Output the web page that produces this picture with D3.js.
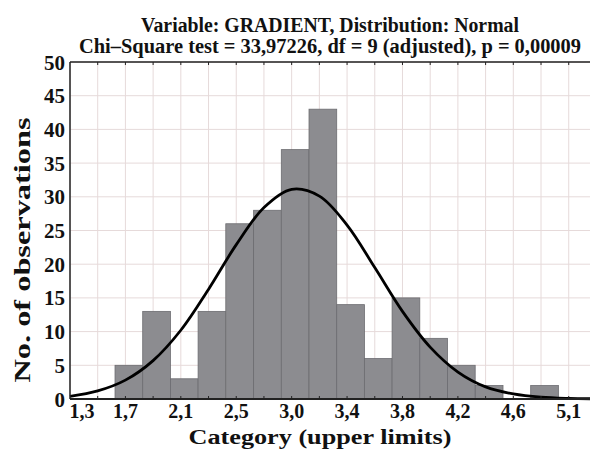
<!DOCTYPE html>
<html>
<head>
<meta charset="utf-8">
<script src="https://cdn.jsdelivr.net/npm/d3@7"></script>
<style>
  body { margin: 0; background: #fff; }
  svg text { font-family: "Liberation Serif", "DejaVu Serif", serif; font-weight: bold; fill: #111; }
</style>
</head>
<body>
<svg id="chart" width="590" height="450"></svg>
<script>
// histogram categories (lower limit of each bar) and counts
const binLower = [1.643, 1.854, 2.065, 2.276, 2.487, 2.699, 2.910, 3.121,
                  3.332, 3.543, 3.754, 3.965, 4.176, 4.388, 4.599, 4.810];
const binWidth = 0.2111;
const counts = [5, 13, 3, 13, 26, 28, 37, 43, 14, 6, 15, 9, 5, 2, 0, 2];

// fitted normal curve
const curveX = [1.300, 1.511, 1.722, 1.933, 2.144, 2.356, 2.567, 2.778, 2.989, 3.200,
                3.411, 3.622, 3.833, 4.044, 4.256, 4.467, 4.678, 4.889, 5.100, 5.311];
const curveY = [0.4, 1.2, 2.8, 5.7, 10.2, 16.3, 22.9, 28.4, 31.1, 30.1,
                25.8, 19.5, 13.0, 7.7, 4.0, 1.8, 0.75, 0.27, 0.09, 0.03];

// x axis labels
const xTickVals = [1.3, 1.722, 2.144, 2.567, 2.989, 3.411, 3.833, 4.256, 4.678, 5.1];
const xTickLabels = ["1,3", "1,7", "2,1", "2,5", "3,0", "3,4", "3,8", "4,2", "4,6", "5,1"];
const yTicks = [0, 5, 10, 15, 20, 25, 30, 35, 40, 45, 50];

const titleLines = ["Variable: GRADIENT, Distribution: Normal",
                    "Chi\u2013Square test = 33,97226, df = 9 (adjusted), p = 0,00009"];

const svg = d3.select("#chart");
const pLeft = 70, pRight = 595, pTop = 62, pBottom = 399;

const x = d3.scaleLinear().domain([1.3, 5.3]).range([pLeft, pRight]);
const y = d3.scaleLinear().domain([0, 50]).range([pBottom, pTop]);

// grid
const gridX = d3.range(0, 20).map(k => 1.3 + k * binWidth);
svg.append("g").selectAll("line").data(gridX).enter().append("line")
  .attr("x1", d => x(d)).attr("x2", d => x(d))
  .attr("y1", pTop).attr("y2", pBottom)
  .attr("stroke", "#e6dada").attr("stroke-width", 1);
svg.append("g").selectAll("line").data(yTicks).enter().append("line")
  .attr("x1", pLeft).attr("x2", 590)
  .attr("y1", d => y(d)).attr("y2", d => y(d))
  .attr("stroke", "#e6dada").attr("stroke-width", 1);

// bars
svg.append("g").selectAll("rect").data(counts).enter().append("rect")
  .attr("x", (d, i) => x(binLower[i]))
  .attr("width", (d, i) => x(binLower[i] + binWidth) - x(binLower[i]))
  .attr("y", d => y(d))
  .attr("height", d => y(0) - y(d))
  .attr("fill", "#8c8c90")
  .attr("stroke", "#6c6c70")
  .attr("stroke-width", 0.8);

// normal curve
const line = d3.line()
  .x((d, i) => x(curveX[i]))
  .y(d => y(d))
  .curve(d3.curveCatmullRom);
svg.append("path")
  .datum(curveY)
  .attr("d", line)
  .attr("fill", "none")
  .attr("stroke", "#000")
  .attr("stroke-width", 2.8);

// frame + ticks
svg.append("line").attr("x1", pLeft).attr("x2", 590).attr("y1", pTop).attr("y2", pTop)
  .attr("stroke", "#222").attr("stroke-width", 1.5);
svg.append("line").attr("x1", pLeft).attr("x2", 590).attr("y1", pBottom).attr("y2", pBottom)
  .attr("stroke", "#222").attr("stroke-width", 2);
svg.append("line").attr("x1", pLeft).attr("x2", pLeft).attr("y1", pTop).attr("y2", pBottom)
  .attr("stroke", "#222").attr("stroke-width", 1.5);

svg.append("g").selectAll("line").data(gridX.slice(1)).enter().append("line")
  .attr("x1", d => x(d)).attr("x2", d => x(d))
  .attr("y1", pTop).attr("y2", pTop + 3)
  .attr("stroke", "#222");
svg.append("g").selectAll("line").data(gridX.slice(1)).enter().append("line")
  .attr("x1", d => x(d)).attr("x2", d => x(d))
  .attr("y1", pBottom - 3).attr("y2", pBottom)
  .attr("stroke", "#222");

// y labels
svg.append("g").selectAll("text").data(yTicks).enter().append("text")
  .attr("x", 65).attr("y", d => y(d))
  .attr("dy", "0.36em")
  .attr("text-anchor", "end")
  .attr("font-size", 21)
  .text(d => d);

// x labels
svg.append("g").selectAll("text").data(xTickVals).enter().append("text")
  .attr("x", (d, i) => i === 0 ? pLeft + 12 : x(d))
  .attr("y", 418)
  .attr("text-anchor", "middle")
  .attr("font-size", 20)
  .text((d, i) => xTickLabels[i]);

// titles
svg.append("text").attr("x", 330).attr("y", 32).attr("text-anchor", "middle")
  .attr("font-size", 20).attr("textLength", 378).attr("lengthAdjust", "spacingAndGlyphs")
  .text(titleLines[0]);
svg.append("text").attr("x", 330).attr("y", 53).attr("text-anchor", "middle")
  .attr("font-size", 20).attr("textLength", 502).attr("lengthAdjust", "spacingAndGlyphs")
  .text(titleLines[1]);

svg.append("text").attr("x", 320).attr("y", 444).attr("text-anchor", "middle")
  .attr("font-size", 20).attr("textLength", 263).attr("lengthAdjust", "spacingAndGlyphs")
  .text("Category (upper limits)");
svg.append("text")
  .attr("transform", "translate(30,250) rotate(-90)")
  .attr("text-anchor", "middle")
  .attr("font-size", 23).attr("textLength", 265).attr("lengthAdjust", "spacingAndGlyphs")
  .text("No. of observations");
</script>
</body>
</html>
